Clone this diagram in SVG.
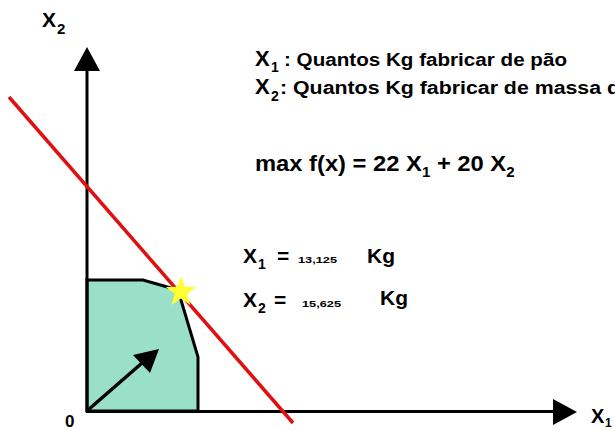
<svg xmlns="http://www.w3.org/2000/svg" width="615" height="430" viewBox="0 0 615 430">
  <style>
    .t { font-family: "Liberation Sans", Arial, sans-serif; font-weight: bold; fill: #000; }
    .ax { stroke: #000; stroke-width: 3; fill: none; }
    .head { fill: #000; stroke: none; }
  </style>
  <rect width="615" height="430" fill="#fff"/>

  <g id="feasible-region">
    <polygon points="87,411 87,280 143,280 178,290 198,357 198,411" fill="#9ae0c8" stroke="#000" stroke-width="3" stroke-linejoin="miter"/>
  </g>

  <g id="connectors">
    <g id="y-axis">
      <line class="ax" x1="87" y1="412" x2="87" y2="68"/>
      <polygon class="head" points="87,47 74,71 100,71"/>
    </g>
    <g id="x-axis">
      <line class="ax" x1="86" y1="411.5" x2="556" y2="411.5"/>
      <polygon class="head" points="577,412 553,399 553,425"/>
    </g>
    <g id="objective-line">
      <line x1="9" y1="97" x2="293" y2="423" stroke="#e01010" stroke-width="3.5"/>
    </g>
    <g id="direction-arrow">
      <line x1="88" y1="410" x2="142" y2="363" stroke="#000" stroke-width="3.5"/>
      <polygon class="head" points="159,349 133,355 150,373"/>
    </g>
  </g>

  <g id="optimum-star">
    <polygon points="181,276 184.8,286.7 196.2,287.1 187.2,294 190.4,304.9 181,298.5 171.6,304.9 174.8,294 165.8,287.1 177.2,286.7" fill="#ffff33"/>
  </g>

  <g id="axis-labels">
    <text class="t" x="42" y="27" font-size="21">X</text>
    <text class="t" x="57" y="34" font-size="15">2</text>
    <text class="t" x="591" y="423" font-size="20">X</text>
    <text class="t" x="605" y="427" font-size="12">1</text>
    <text class="t" x="65" y="427" font-size="17">0</text>
  </g>

  <g id="legend">
    <text class="t" x="255" y="66" font-size="22">X</text>
    <text class="t" x="271" y="72" font-size="14">1</text>
    <text class="t" x="284" y="66" font-size="18" textLength="283" lengthAdjust="spacingAndGlyphs">: Quantos Kg fabricar de pão</text>
    <text class="t" x="255" y="94" font-size="22">X</text>
    <text class="t" x="271" y="101" font-size="14">2</text>
    <text class="t" x="280" y="94" font-size="18" textLength="340" lengthAdjust="spacingAndGlyphs">: Quantos Kg fabricar de massa d</text>
  </g>

  <g id="objective">
    <text class="t" font-size="22" transform="translate(255,171) scale(1.08,1)">max f(x) = 22 X<tspan font-size="14" dy="6">1</tspan><tspan dy="-6"> + 20 X</tspan><tspan font-size="14" dy="6">2</tspan></text>
  </g>

  <g id="solution">
    <text class="t" x="243" y="263" font-size="21">X</text>
    <text class="t" x="258" y="269" font-size="14">1</text>
    <text class="t" x="277" y="263" font-size="21">=</text>
    <text class="t" x="298" y="263" font-size="9.5" textLength="39" lengthAdjust="spacingAndGlyphs">13,125</text>
    <text class="t" x="367" y="263" font-size="21">Kg</text>
    <text class="t" x="243" y="307" font-size="21">X</text>
    <text class="t" x="258" y="313" font-size="14">2</text>
    <text class="t" x="274" y="307" font-size="21">=</text>
    <text class="t" x="302" y="307" font-size="9.5" textLength="39" lengthAdjust="spacingAndGlyphs">15,625</text>
    <text class="t" x="380" y="305" font-size="21">Kg</text>
  </g>
</svg>
